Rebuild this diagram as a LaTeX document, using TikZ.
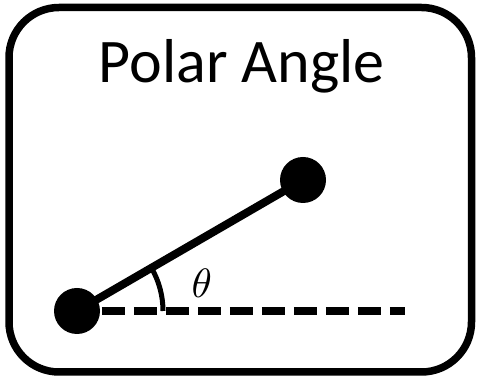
\documentclass[tikz,border=0pt]{standalone}
\usepackage{fontspec}
\newfontfamily\titlefont{Carlito}
\begin{document}
\begin{tikzpicture}[x=1pt,y=1pt,
  dot/.style={circle,fill=black,draw=none,minimum size=46pt,inner sep=0pt},
  frame/.style={draw=black,line width=7.5pt,rounded corners=50pt},
  rod/.style={draw=black,line width=8pt},
  dashline/.style={draw=black,line width=8pt,dash pattern=on 23pt off 9pt},
  anglearc/.style={draw=black,line width=5pt}]
\useasboundingbox (0,0) rectangle (477,377);
\draw[frame] (9,369.5) rectangle (471.5,5);
\node[anchor=base,inner sep=0pt,font=\titlefont\fontsize{62}{70}\selectfont] (title) at (241.5,294) {Polar Angle};
\node[dot] (A) at (77,66) {};
\node[dot] (B) at (303,197) {};
\coordinate (E) at (405,66);
\draw[dashline] ([xshift=1.7pt]A.east) -- (E);
\draw[rod] (A.center) -- (B.center);
\draw[anglearc] (A.center) ++(86,0) arc[start angle=0,end angle=30,radius=86];
\node[inner sep=0pt] (theta) at (201.7,93.5) {\scalebox{4.1}{$\theta$}};
\end{tikzpicture}
\end{document}
